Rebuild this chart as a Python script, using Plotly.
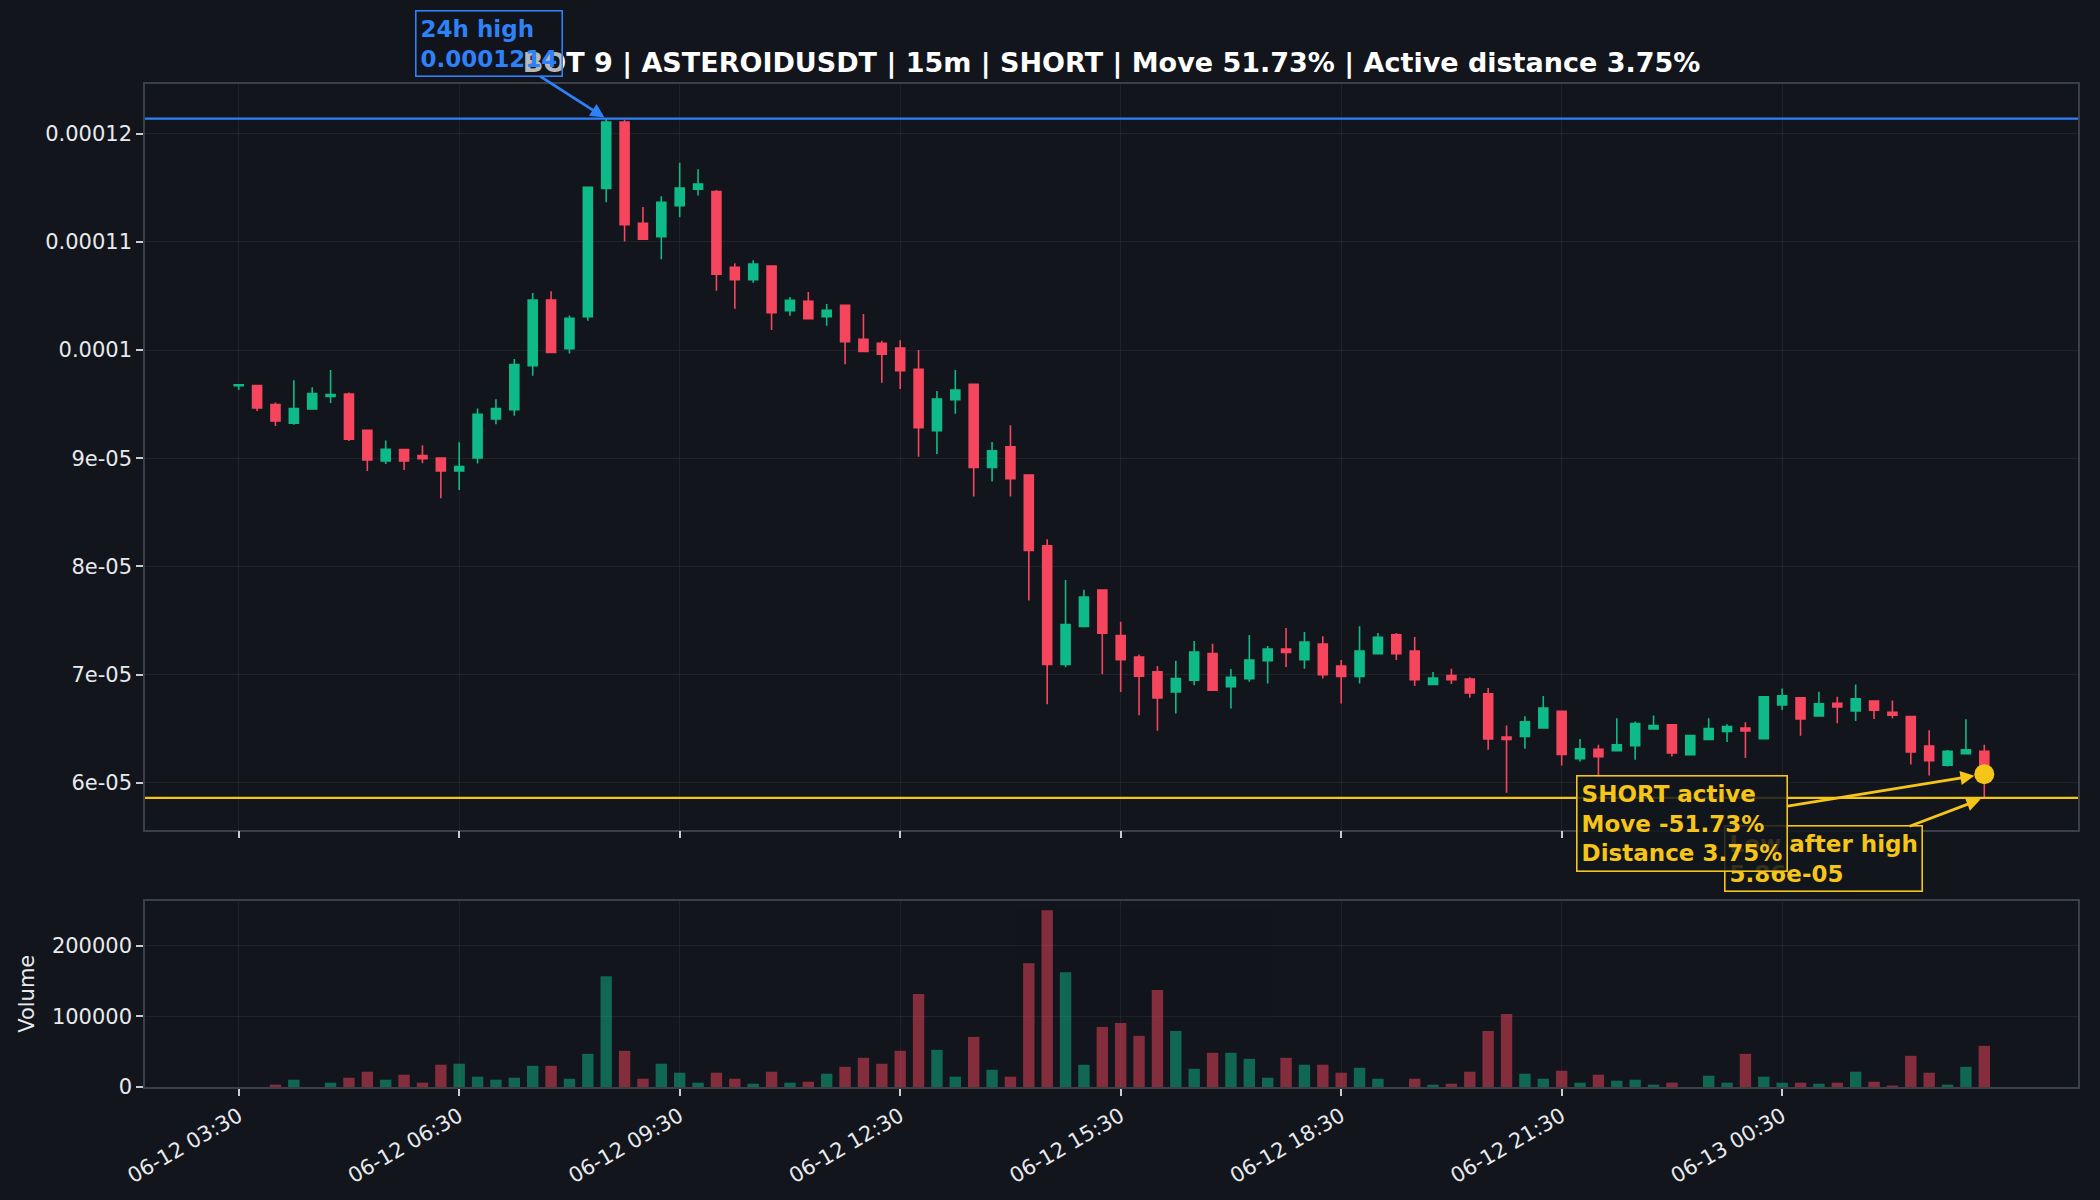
import numpy as np
import pandas as pd
import plotly.graph_objects as go

# ---------------- data ----------------
PRICE_UNIT = 1e-5  # the OHLC lists below are in units of 1e-5
START = "2025-06-12 03:30"
FREQ = "15min"

open_u = [9.670, 9.673, 9.497, 9.324, 9.457, 9.571, 9.593, 9.259, 8.975, 9.080,
          9.025, 9.003, 8.883, 9.003, 9.364, 9.448, 9.855, 10.463, 10.012, 10.309,
          11.494, 12.108, 11.173, 11.049, 11.336, 11.488, 11.466, 10.765, 10.651, 10.778,
          10.364, 10.451, 10.309, 10.414, 10.099, 10.062, 10.018, 9.822, 9.255, 9.542,
          9.683, 8.914, 9.105, 8.846, 8.191, 7.095, 7.446, 7.782, 7.360, 7.163,
          7.025, 6.840, 6.948, 7.194, 6.889, 6.963, 7.129, 7.237, 7.138, 7.283,
          7.080, 6.982, 7.194, 7.369, 7.218, 6.908, 6.991, 6.960, 6.822, 6.422,
          6.428, 6.508, 6.662, 6.223, 6.309, 6.297, 6.343, 6.498, 6.535, 6.260,
          6.401, 6.474, 6.505, 6.407, 6.719, 6.786, 6.618, 6.734, 6.664, 6.755,
          6.651, 6.612, 6.339, 6.162, 6.269, 6.291]
high_u = [9.685, 9.673, 9.515, 9.722, 9.657, 9.815, 9.608, 9.260, 9.164, 9.080,
          9.120, 9.005, 9.148, 9.460, 9.546, 9.917, 10.528, 10.543, 10.321, 11.506,
          12.140, 12.130, 11.324, 11.423, 11.731, 11.673, 11.480, 10.802, 10.830, 10.780,
          10.491, 10.537, 10.426, 10.414, 10.333, 10.086, 10.092, 10.000, 9.622, 9.815,
          9.685, 9.151, 9.305, 8.850, 8.252, 7.874, 7.785, 7.782, 7.489, 7.185,
          7.080, 7.129, 7.311, 7.286, 7.052, 7.366, 7.265, 7.431, 7.394, 7.354,
          7.135, 7.446, 7.385, 7.385, 7.348, 7.025, 7.055, 6.975, 6.877, 6.529,
          6.615, 6.803, 6.662, 6.404, 6.352, 6.596, 6.566, 6.621, 6.535, 6.440,
          6.596, 6.541, 6.560, 6.800, 6.872, 6.790, 6.841, 6.795, 6.908, 6.760,
          6.761, 6.612, 6.486, 6.303, 6.587, 6.352]
low_u = [9.630, 9.438, 9.299, 9.309, 9.457, 9.512, 9.160, 8.883, 8.948, 8.892,
         8.954, 8.630, 8.707, 8.951, 9.315, 9.392, 9.762, 9.975, 9.969, 10.272,
         11.367, 11.003, 11.025, 10.840, 11.228, 11.429, 10.549, 10.383, 10.623, 10.185,
         10.318, 10.290, 10.225, 9.870, 9.985, 9.698, 9.640, 9.015, 9.040, 9.412,
         8.646, 8.785, 8.646, 7.686, 6.726, 7.068, 7.446, 7.003, 6.840, 6.625,
         6.480, 6.640, 6.902, 6.850, 6.686, 6.935, 6.917, 7.071, 7.055, 6.963,
         6.732, 6.917, 7.190, 7.135, 6.895, 6.902, 6.914, 6.785, 6.305, 5.908,
         6.314, 6.505, 6.160, 6.196, 6.050, 6.297, 6.214, 6.498, 6.242, 6.260,
         6.400, 6.376, 6.229, 6.400, 6.673, 6.434, 6.618, 6.550, 6.572, 6.590,
         6.596, 6.168, 6.067, 6.150, 6.269, 5.860]
close_u = [9.680, 9.466, 9.346, 9.460, 9.599, 9.589, 9.176, 8.985, 9.083, 8.975,
           8.997, 8.883, 8.923, 9.407, 9.460, 9.867, 10.463, 9.978, 10.293, 11.506,
           12.108, 11.160, 11.025, 11.367, 11.497, 11.534, 10.701, 10.651, 10.796, 10.346,
           10.460, 10.290, 10.367, 10.077, 9.988, 9.963, 9.809, 9.283, 9.548, 9.631,
           8.914, 9.068, 8.812, 8.148, 7.095, 7.462, 7.717, 7.382, 7.138, 6.985,
           6.785, 6.963, 7.209, 6.855, 6.975, 7.135, 7.237, 7.206, 7.302, 7.000,
           6.982, 7.218, 7.345, 7.194, 6.954, 6.969, 6.954, 6.831, 6.406, 6.400,
           6.563, 6.692, 6.262, 6.315, 6.242, 6.352, 6.547, 6.529, 6.275, 6.437,
           6.502, 6.520, 6.480, 6.795, 6.804, 6.590, 6.731, 6.700, 6.777, 6.670,
           6.624, 6.284, 6.205, 6.291, 6.306, 6.080]
volume = [0, 0, 3300, 10300, 0, 6100, 13100, 21600, 10300, 17400,
          6100, 31500, 32900, 14600, 10300, 13100, 30000, 30000, 11700, 46900,
          156800, 51200, 11700, 32900, 20200, 6100, 20200, 11700, 4700, 21600,
          6100, 7500, 18800, 28600, 41300, 32900, 51200, 131500, 52600, 14600,
          70900, 24400, 14600, 175100, 249800, 162400, 31500, 85000, 90600, 72300,
          137100, 79300, 25800, 48400, 48400, 39900, 13100, 41300, 31500, 31500,
          20200, 27200, 11700, 0, 11700, 3300, 4700, 21600, 79300, 103300,
          18800, 11700, 23000, 6100, 17400, 8900, 10300, 3300, 6100, 0,
          16000, 6100, 46900, 14600, 6100, 6100, 4700, 6100, 21600, 7500,
          1900, 44100, 20200, 3300, 28600, 58200]

high_24h = 0.0001214
low_after_high = 0.0000586
move_pct = -51.73
distance_pct = 3.75

price_ticks = [6e-05, 7e-05, 8e-05, 9e-05, 1e-04, 1.1e-04, 1.2e-04]
price_tick_labels = ["6e-05", "7e-05", "8e-05", "9e-05", "0.0001", "0.00011", "0.00012"]
vol_ticks = [0, 100000, 200000]
vol_tick_labels = ["0", "100000", "200000"]
time_ticks = ["2025-06-12 03:30", "2025-06-12 06:30", "2025-06-12 09:30", "2025-06-12 12:30",
              "2025-06-12 15:30", "2025-06-12 18:30", "2025-06-12 21:30", "2025-06-13 00:30"]
time_tick_labels = ["06-12 03:30", "06-12 06:30", "06-12 09:30", "06-12 12:30",
                    "06-12 15:30", "06-12 18:30", "06-12 21:30", "06-13 00:30"]

TITLE = "BOT 9 | ASTEROIDUSDT | 15m | SHORT | Move 51.73% | Active distance 3.75%"

# ---------------- styling ----------------
BG = "#12151c"
GREEN = "#0fba8a"
RED = "#f6465d"
BLUE = "#2f81f7"
YELLOW = "#f5c518"
TEXT = "#e8eaed"
GRID = "rgba(255,255,255,0.06)"
SPINE = "#3a3f4a"
FONT = "DejaVu Sans"

o = np.array(open_u) * PRICE_UNIT
h = np.array(high_u) * PRICE_UNIT
l = np.array(low_u) * PRICE_UNIT
c = np.array(close_u) * PRICE_UNIT
times = pd.date_range(START, periods=len(o), freq=FREQ)
step = pd.Timedelta(FREQ)
x_range = [times[0] - 5.1 * step, times[0] + 100.1 * step]

vol_colors = [GREEN if cc >= oo else RED for oo, cc in zip(o, c)]

fig = go.Figure()
fig.add_trace(go.Candlestick(
    x=times, open=o, high=h, low=l, close=c,
    increasing=dict(line=dict(color=GREEN, width=1.6), fillcolor=GREEN),
    decreasing=dict(line=dict(color=RED, width=1.6), fillcolor=RED),
    xaxis="x", yaxis="y", hoverinfo="skip", showlegend=False,
))
fig.add_trace(go.Bar(
    x=times, y=volume, marker=dict(color=vol_colors, line=dict(width=0)), opacity=0.5,
    width=0.62 * step.total_seconds() * 1000,
    xaxis="x2", yaxis="y2", hoverinfo="skip", showlegend=False,
))
fig.add_trace(go.Scatter(
    x=[times[-1]], y=[c[-1]], mode="markers",
    marker=dict(color=YELLOW, size=20), xaxis="x", yaxis="y",
    hoverinfo="skip", showlegend=False,
))

# reference lines
fig.add_shape(type="line", xref="x domain", yref="y", x0=0, x1=1, y0=high_24h, y1=high_24h,
              line=dict(color=BLUE, width=2.2))
fig.add_shape(type="line", xref="x domain", yref="y", x0=0, x1=1, y0=low_after_high, y1=low_after_high,
              line=dict(color=YELLOW, width=2.2))

box_bg = "rgba(18,21,28,0.85)"
ann_font = lambda col: dict(family=FONT, size=23, color=col, weight="bold")
i_high = int(np.argmax(h))
fig.add_annotation(
    x=times[i_high], y=high_24h, xref="x", yref="y", ax=-117, ay=-75,
    text=f"24h high<br>{high_24h:.7f}", align="left", font=ann_font(BLUE),
    bordercolor=BLUE, borderwidth=1.6, borderpad=4, bgcolor="rgba(18,21,28,0.3)",
    showarrow=True, arrowhead=2, arrowsize=1, arrowwidth=2.8, arrowcolor=BLUE, standoff=2,
)
fig.add_annotation(
    x=times[-1], y=low_after_high, xref="x", yref="y", ax=-161, ay=61,
    text=f"Low after high<br>{low_after_high:.2e}", align="left", font=ann_font(YELLOW),
    bordercolor=YELLOW, borderwidth=1.6, borderpad=4, bgcolor=box_bg,
    showarrow=True, arrowhead=2, arrowsize=1, arrowwidth=2.8, arrowcolor=YELLOW, standoff=4,
)
fig.add_annotation(
    x=times[-1], y=c[-1], xref="x", yref="y", ax=-302, ay=49,
    text=f"SHORT active<br>Move {move_pct:.2f}%<br>Distance {distance_pct:.2f}%", align="left",
    font=ann_font(YELLOW),
    bordercolor=YELLOW, borderwidth=1.6, borderpad=4, bgcolor=box_bg,
    showarrow=True, arrowhead=2, arrowsize=1, arrowwidth=2.8, arrowcolor=YELLOW, standoff=10,
)

axis_common = dict(
    showline=True, mirror=True, linecolor=SPINE, linewidth=1.5,
    showgrid=True, gridcolor=GRID, gridwidth=1, zeroline=False,
    ticks="outside", ticklen=7, tickwidth=1.5, tickcolor="#c8ccd4",
    tickfont=dict(family=FONT, size=21, color=TEXT),
)

fig.update_layout(
    width=2100, height=1200,
    paper_bgcolor=BG, plot_bgcolor=BG,
    margin=dict(l=145, r=22, t=84, b=110),
    font=dict(family=FONT, color=TEXT),
    title=dict(text=TITLE, x=0.5, xref="paper", xanchor="center",
               y=1 - 63 / 1200, yref="container", yanchor="middle",
               font=dict(family=FONT, size=27, color="#ffffff", weight="bold")),
    xaxis=dict(domain=[0, 1], anchor="y", type="date", range=x_range,
               tickvals=time_ticks, ticktext=time_tick_labels, showticklabels=False,
               rangeslider=dict(visible=False), matches="x2", **axis_common),
    yaxis=dict(domain=[0.2565, 1], anchor="x", range=[5.566e-05, 12.46e-05],
               tickvals=price_ticks, ticktext=price_tick_labels, **axis_common),
    xaxis2=dict(domain=[0, 1], anchor="y2", type="date", range=x_range,
                tickvals=time_ticks, ticktext=time_tick_labels, tickangle=-30,
                **axis_common),
    yaxis2=dict(domain=[0, 0.1859], anchor="x2", range=[0, 263700],
                tickvals=vol_ticks, ticktext=vol_tick_labels,
                title=dict(text="Volume", standoff=12, font=dict(family=FONT, size=21, color=TEXT)),
                **axis_common),
    showlegend=False,
)

fig.write_html("out.html")
